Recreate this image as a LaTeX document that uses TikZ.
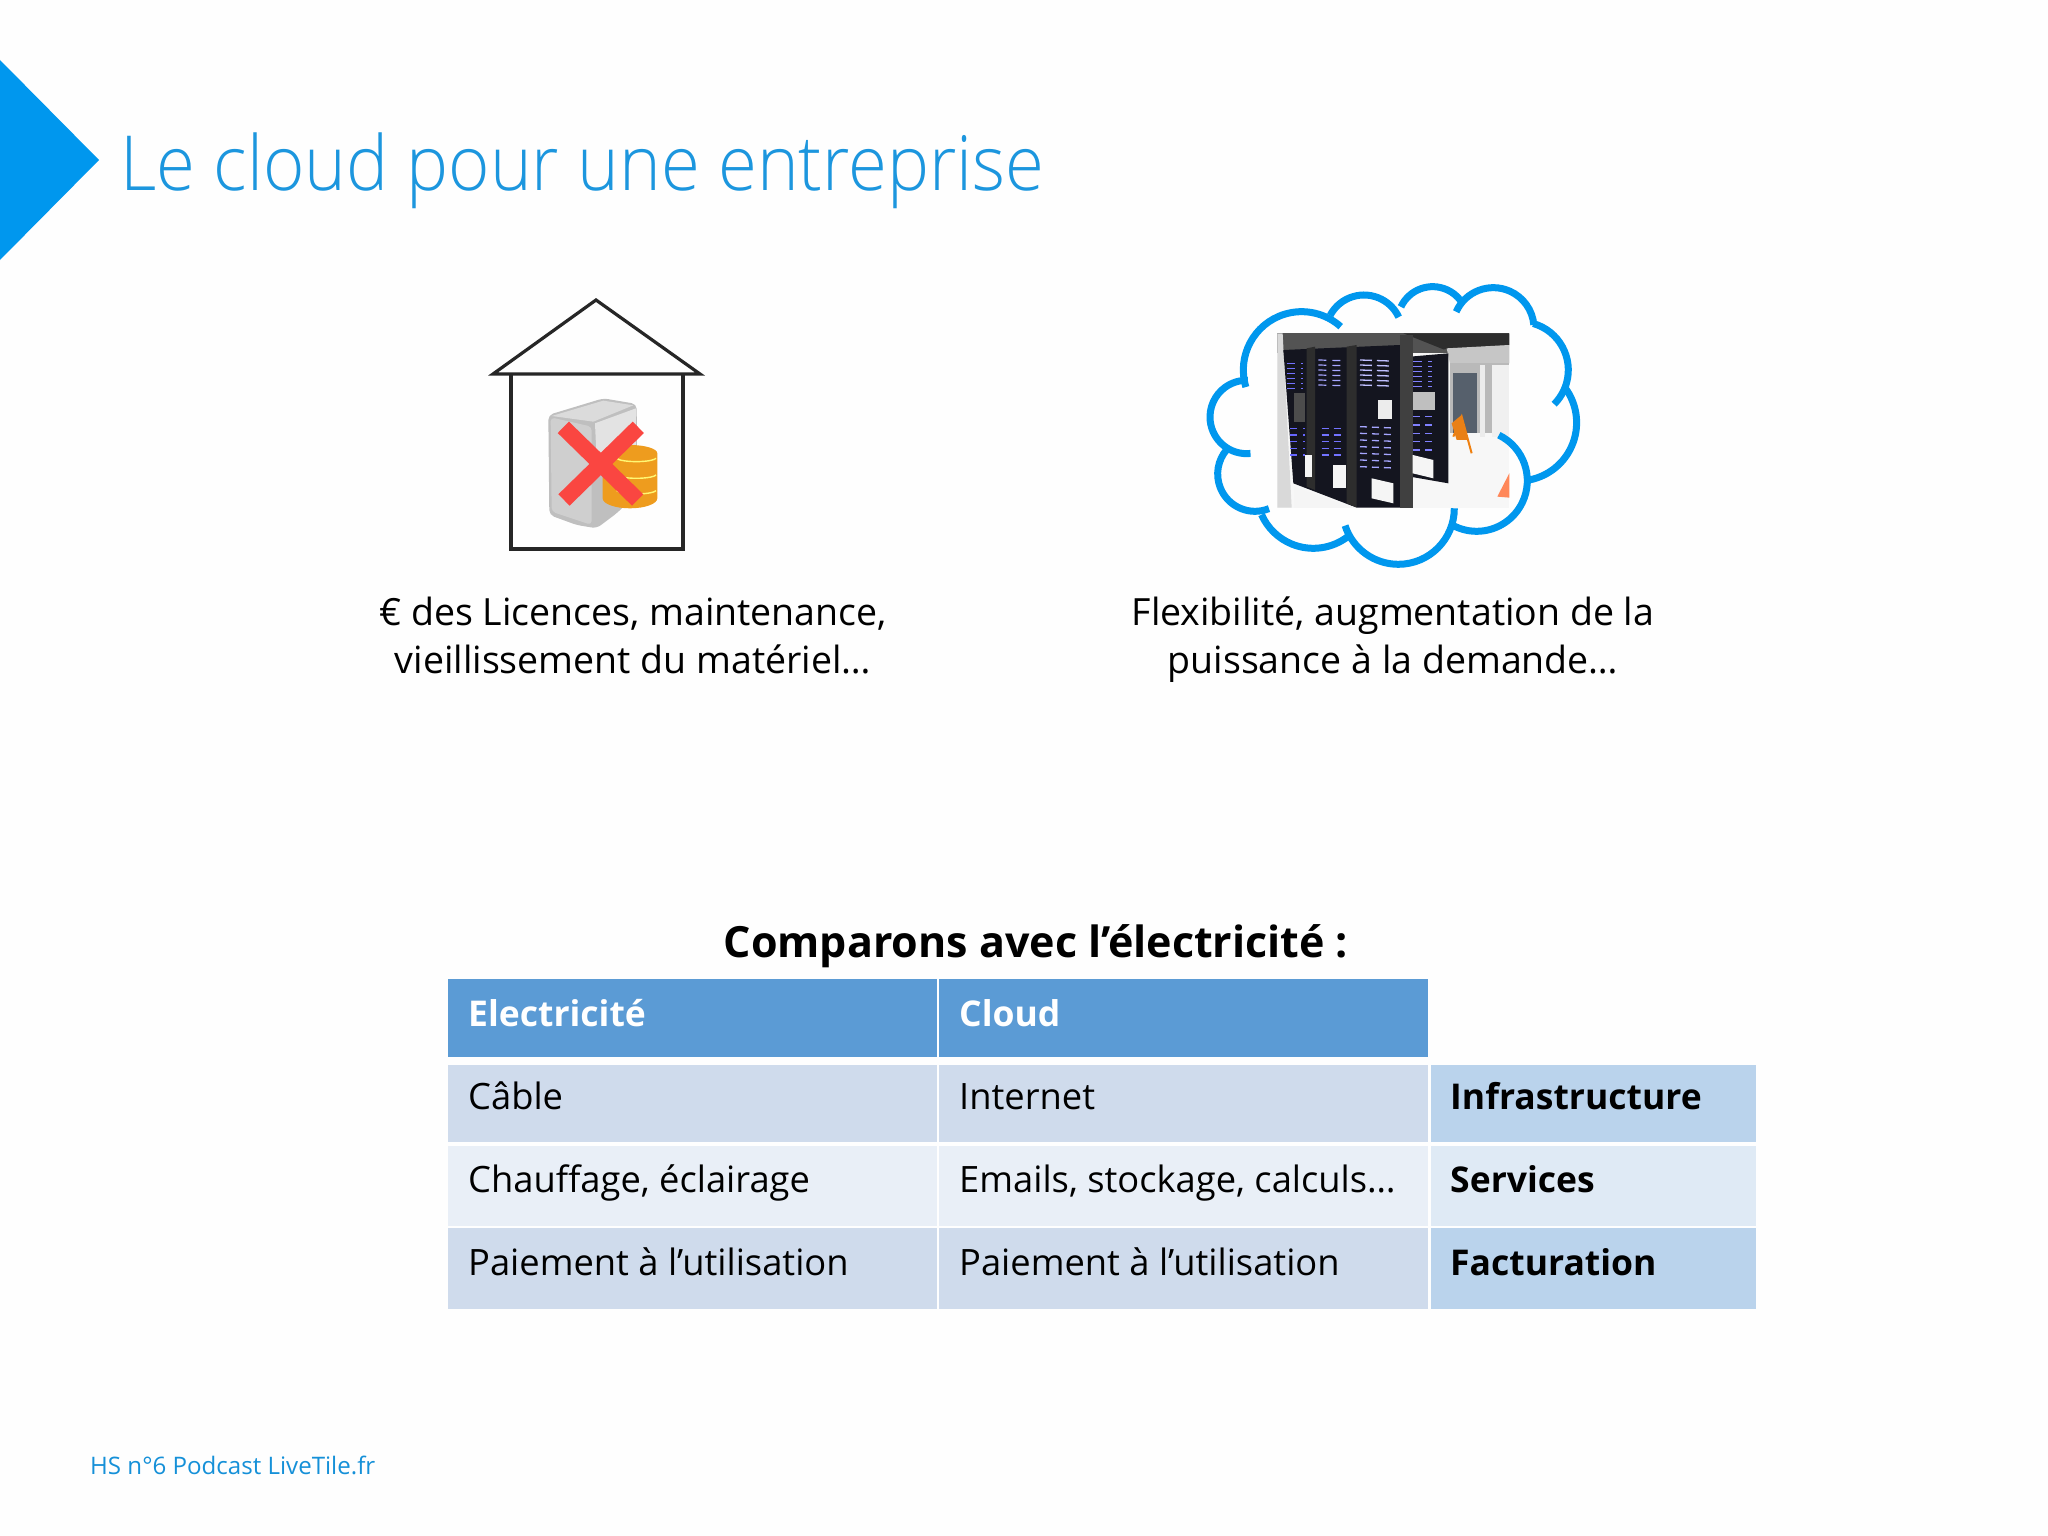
\documentclass[tikz,border=0pt]{standalone}
\usepackage{fontspec}
\setmainfont{Open Sans}
\newfontfamily\lightfont[FakeStretch=0.93]{Open Sans Light}
\usetikzlibrary{calc}
\definecolor{azure}{HTML}{0097EE}
\definecolor{titleblue}{HTML}{1C96DE}
\definecolor{foot}{HTML}{1590D8}
\definecolor{headblue}{HTML}{5B9BD5}
\definecolor{rowa}{HTML}{CFDBEC}
\definecolor{rowb}{HTML}{E9EFF7}
\definecolor{sidea}{HTML}{BAD3EC}
\definecolor{sideb}{HTML}{DFEAF5}
\definecolor{rackdark}{HTML}{14151F}
\definecolor{crossred}{HTML}{FA4641}
\definecolor{dbgold}{HTML}{EE9C1E}
\definecolor{corridor}{HTML}{56606C}
\newcommand{\fsz}[1]{\fontsize{#1}{#1}\selectfont}
\newcommand{\lobe}[5]{\draw[cloudline] ($(#1,#2)+(#4:#3)$) arc[start angle=#4,end angle=#5,radius=#3];}
\tikzset{
  cellnode/.style={anchor=base west,inner sep=0pt,text=black,font=\fsz{36.3}},
  headnode/.style={anchor=base west,inner sep=0pt,text=white,font=\fsz{35.5}\bfseries},
  sidenode/.style={anchor=base west,inner sep=0pt,text=black,font=\fsz{35.5}\bfseries},
  captionnode/.style={anchor=base,inner sep=0pt,text=black,font=\fsz{37.5}},
  cloudline/.style={draw=azure,line width=7pt,line cap=butt},
  houseline/.style={draw=black!85,line width=3.2pt,line join=miter},
}
\begin{document}
\begin{tikzpicture}[x=1pt,y=-1pt]
\useasboundingbox (0,0) rectangle (2048,1536);
\fill[white!99.5!black] (0,0) rectangle (2048,1536);
% corner arrow
\fill[azure] (0,60) -- (99,160) -- (0,260) -- cycle;
\node[anchor=base west,inner sep=0pt,text=titleblue,font=\fsz{76}\lightfont] (title) at (120,190) {Le cloud pour une entreprise};

% house
\coordinate (apex) at (596,300);
\coordinate (eaveL) at (493,374);
\coordinate (eaveR) at (700,374);
\coordinate (wallL) at (511,374);
\coordinate (wallR) at (683,374);
\coordinate (floorL) at (511,549);
\coordinate (floorR) at (683,549);
\draw[houseline] (eaveL) -- (apex) -- (eaveR) -- cycle;
\draw[houseline] (wallL) -- (floorL) -- (floorR) -- (wallR);
\begin{scope}[shift={(460,280)},x=0.3333pt,y=-0.3333pt]
  % server
  \fill[gray!50,rounded corners=5pt] (265,405) -- (430,355) -- (530,372) -- (532,640) -- (470,700) -- (410,745) -- (350,735) -- (268,705) -- cycle;
  \fill[gray!38,rounded corners=4pt] (272,412) -- (395,440) -- (395,735) -- (275,695) -- cycle;
  \fill[gray!22] (405,430) -- (528,385) -- (528,500) -- (410,540) -- cycle;
  \fill[gray!28] (275,408) -- (430,362) -- (520,376) -- (400,425) -- cycle;
  % database
  \fill[dbgold] (428,520) -- (428,655) arc[x radius=82,y radius=30,start angle=180,end angle=0] -- (592,520) arc[x radius=82,y radius=25,start angle=0,end angle=-180] -- cycle;
  \draw[yellow!55!white,line width=1.4pt] (470,535) arc[x radius=60,y radius=12,start angle=170,end angle=10];
  \draw[yellow!55!white,line width=1.4pt] (470,585) arc[x radius=60,y radius=12,start angle=170,end angle=10];
  \draw[yellow!55!white,line width=1.4pt] (470,632) arc[x radius=60,y radius=12,start angle=170,end angle=10];
  % red cross
  \draw[draw=crossred,line width=16pt] (310,442) -- (533,660);
  \draw[draw=crossred,line width=16pt] (535,442) -- (312,660);
\end{scope}

% cloud and photo
\begin{scope}[shift={(1190,270)},x=0.3333pt,y=-0.3333pt]
  \lobe{335}{300}{175}{163}{312}
  \lobe{522}{190}{115}{208}{335}
  \lobe{728}{155}{105}{205}{323}
  \lobe{910}{175}{122}{204}{355}
  \lobe{990}{300}{145}{-74}{45}
  \lobe{985}{458}{175}{-36}{78}
  \lobe{625}{715}{168}{0}{162}
  \lobe{370}{665}{170}{52}{156}
  \lobe{195}{612}{112}{68}{221}
  \lobe{170}{441}{110}{84}{272}
  % photo
  \begin{scope}
    \clip (262,190) rectangle (958,713);
    \fill[gray!6] (262,190) rectangle (958,713);
    \fill[gray!65!black] (262,190) rectangle (958,250);
    \fill[gray!35!black] (640,190) -- (958,190) -- (958,225) -- (760,238) -- cycle;
    \fill[gray!45] (770,235) -- (958,225) -- (958,280) -- (780,280) -- cycle;
    \fill[gray!30] (262,190) -- (278,190) -- (305,713) -- (262,713) -- cycle;
    \fill[gray!55] (780,280) rectangle (958,490);
    \fill[gray!15] (870,285) rectangle (885,500);
    \fill[gray!12] (905,285) rectangle (958,500);
    \fill[corridor] (790,310) rectangle (860,490);
    \draw[orange!75!brown,line width=2pt] (790,500) -- (815,440) -- (845,550);
    \fill[orange!65!brown] (785,460) -- (815,435) -- (835,510) -- (800,510) -- cycle;
    % back rack
    \fill[rackdark] (660,260) -- (775,250) -- (775,640) -- (660,620) -- cycle;
    % main racks
    \fill[rackdark] (280,240) -- (630,225) -- (668,205) -- (668,713) -- (500,713) -- (310,640) -- cycle;
    \fill[gray!50!black] (630,195) rectangle (668,713);
    \fill[gray!35!black] (350,235) -- (375,230) -- (375,660) -- (350,650) -- cycle;
    \fill[gray!35!black] (470,230) -- (500,225) -- (500,713) -- (470,700) -- cycle;
    % white panels
    \fill[white!92!gray] (345,555) rectangle (365,620);
    \fill[white!92!gray] (430,585) rectangle (468,655);
    \fill[white!92!gray] (545,625) -- (610,640) -- (610,700) -- (545,685) -- cycle;
    \fill[white!92!gray] (668,555) -- (730,570) -- (730,625) -- (668,610) -- cycle;
    \fill[white!92!gray] (312,650) -- (450,700) -- (500,713) -- (312,713) -- cycle;
    \fill[gray!50] (668,365) rectangle (735,420);
    \fill[white!85!gray] (565,390) rectangle (605,448);
    \fill[gray!60!black] (312,370) rectangle (345,455);
    \foreach \yy in {270,285,300,315,330,345}{
      \draw[white!75!blue,line width=1.3pt,dash pattern=on 12pt off 5pt] (510,\yy) -- (600,\yy+3);
      \draw[white!65!blue,line width=1.2pt,dash pattern=on 8pt off 6pt] (385,\yy) -- (460,\yy+2);
      \draw[white!45!blue,line width=1.2pt,dash pattern=on 8pt off 6pt] (290,\yy+10) -- (340,\yy+10);
      \draw[white!50!blue,line width=1.2pt,dash pattern=on 9pt off 6pt] (670,\yy+5) -- (725,\yy+5);
    }
    \foreach \yy in {470,490,510,530,550,570,590}{
      \draw[white!65!blue,line width=1.3pt,dash pattern=on 7pt off 5pt] (510,\yy) -- (610,\yy+4);
    }
    \foreach \yy in {475,495,515,535,555}{
      \draw[white!45!blue,line width=1.2pt,dash pattern=on 7pt off 5pt] (395,\yy) -- (465,\yy);
      \draw[white!40!blue,line width=1.2pt,dash pattern=on 7pt off 6pt] (300,\yy) -- (345,\yy);
    }
    \foreach \yy in {440,465,490,515,540}{
      \draw[white!50!blue,line width=1.2pt,dash pattern=on 7pt off 5pt] (670,\yy) -- (730,\yy);
    }
    \fill[red!45!orange!65] (958,610) -- (922,680) -- (958,683) -- cycle;
  \end{scope}
  % lobe in front of the photo
  \lobe{860}{632}{152}{-64}{119}
\end{scope}

% captions
\node[captionnode] (capL1) at (633,625) {€ des Licences, maintenance,};
\node[captionnode] (capL2) at (633,673) {vieillissement du matériel…};
\node[captionnode] (capR1) at (1393,625) {Flexibilité, augmentation de la};
\node[captionnode] (capR2) at (1393,673) {puissance à la demande…};
\node[anchor=base,inner sep=0pt,text=black,font=\fsz{43}\bfseries] (cmp) at (1036,957) {Comparons avec l’électricité :};

% table
\fill[headblue] (448,979) rectangle (937,1057);
\fill[headblue] (939,979) rectangle (1428,1057);
\fill[rowa] (448,1065) rectangle (937,1142);
\fill[rowa] (939,1065) rectangle (1428,1142);
\fill[sidea] (1431,1065) rectangle (1756,1142);
\fill[rowb] (448,1146) rectangle (937,1226);
\fill[rowb] (939,1146) rectangle (1428,1226);
\fill[sideb] (1431,1146) rectangle (1756,1226);
\fill[rowa] (448,1228) rectangle (937,1309);
\fill[rowa] (939,1228) rectangle (1428,1309);
\fill[sidea] (1431,1228) rectangle (1756,1309);
\node[headnode] (h1) at (468,1026) {Electricité};
\node[headnode] (h2) at (959,1026) {Cloud};
\node[cellnode] (a1) at (468,1109) {Câble};
\node[cellnode] (b1) at (959,1109) {Internet};
\node[sidenode] (c1) at (1450,1109) {Infrastructure};
\node[cellnode] (a2) at (468,1192) {Chauffage, éclairage};
\node[cellnode] (b2) at (959,1192) {Emails, stockage, calculs…};
\node[sidenode] (c2) at (1450,1192) {Services};
\node[cellnode] (a3) at (468,1275) {Paiement à l’utilisation};
\node[cellnode] (b3) at (959,1275) {Paiement à l’utilisation};
\node[sidenode] (c3) at (1450,1275) {Facturation};
% footer
\node[anchor=base west,inner sep=0pt,text=foot,font=\fsz{24.1}] (foot) at (90,1474) {HS n°6 Podcast LiveTile.fr};
\end{tikzpicture}
\end{document}
